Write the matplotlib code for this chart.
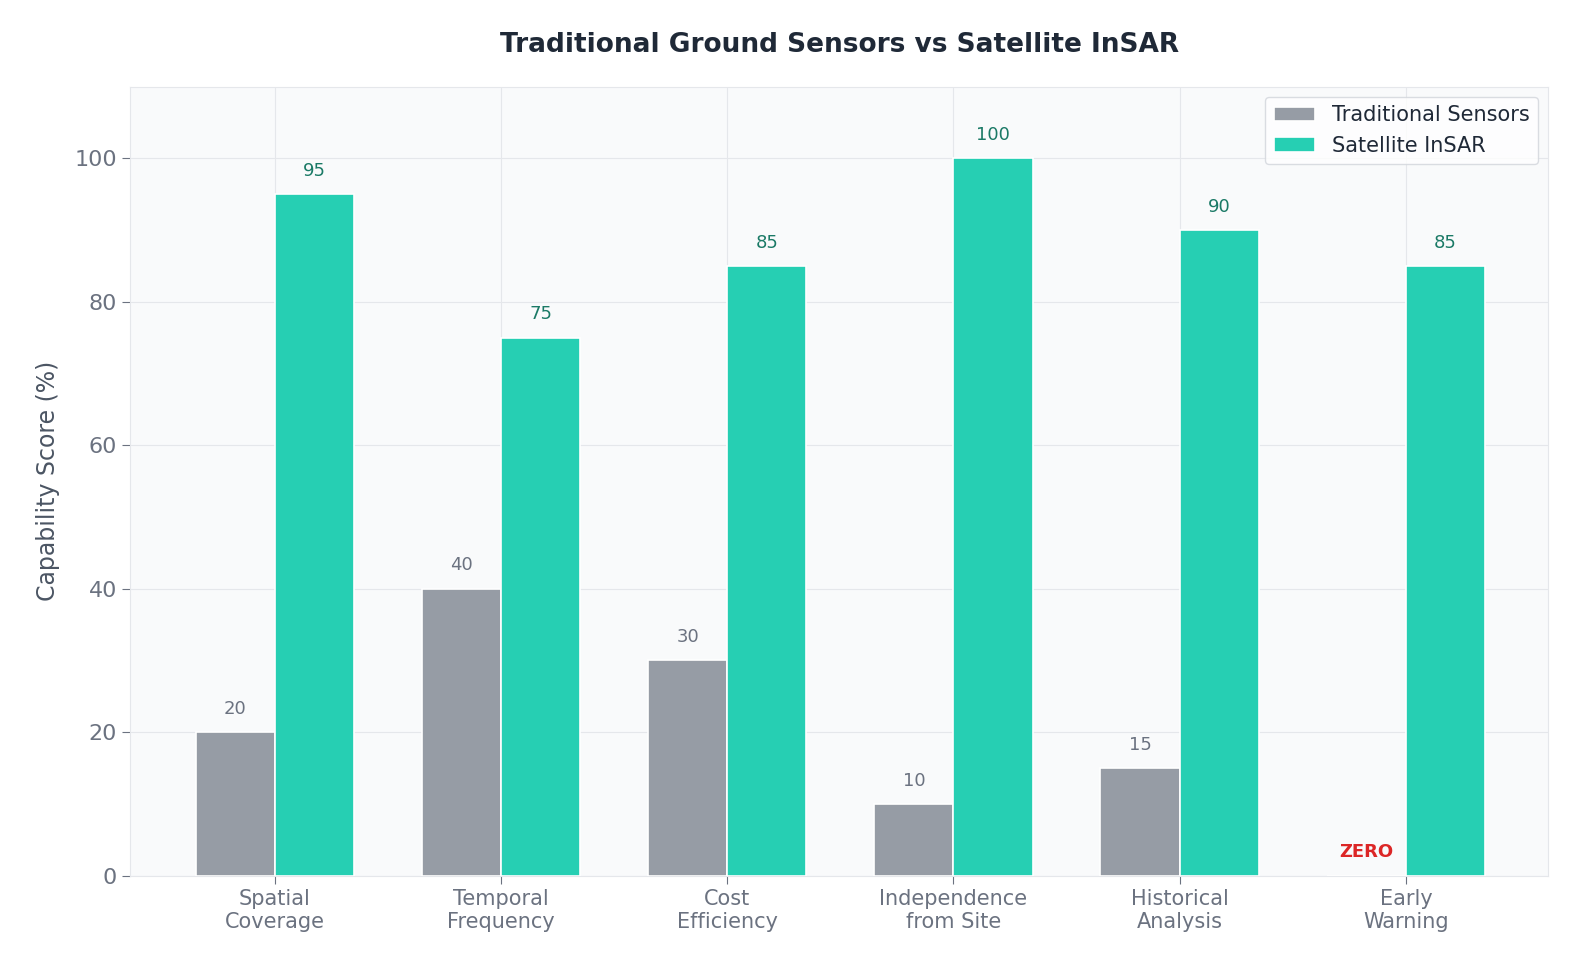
import numpy as np
import matplotlib.pyplot as plt

categories = ["Spatial\nCoverage", "Temporal\nFrequency", "Cost\nEfficiency",
              "Independence\nfrom Site", "Historical\nAnalysis", "Early\nWarning"]
traditional = [20, 40, 30, 10, 15, 0]
insar = [95, 75, 85, 100, 90, 85]

GRAY = "#969CA5"
TEAL = "#26CFB3"

fig, ax = plt.subplots(figsize=(15.8, 9.73), dpi=100)
fig.subplots_adjust(left=0.0823, right=0.98, top=0.911, bottom=0.1)
ax.set_facecolor("#F9FAFB")

x = np.arange(len(categories))
w = 0.35
b1 = ax.bar(x - w / 2, traditional, w, color=GRAY, edgecolor="white", linewidth=1.2,
            label="Traditional Sensors", zorder=3)
b2 = ax.bar(x + w / 2, insar, w, color=TEAL, edgecolor="white", linewidth=1.2,
            label="Satellite InSAR", zorder=3)

for xi, v in zip(x, traditional):
    if v == 0:
        ax.text(xi - w / 2, 2.0, "ZERO", ha="center", va="bottom", fontsize=13,
                fontweight="bold", color="#DC2626", zorder=4)
    else:
        ax.text(xi - w / 2, v + 2, str(v), ha="center", va="bottom", fontsize=13,
                color="#6B7280", zorder=4)
for xi, v in zip(x, insar):
    ax.text(xi + w / 2, v + 2, str(v), ha="center", va="bottom", fontsize=13,
            color="#1B7A66", zorder=4)

ax.set_xlim(-0.64, 5.63)
ax.set_ylim(0, 110)
ax.set_yticks([0, 20, 40, 60, 80, 100])
ax.set_xticks(x)
ax.set_xticklabels(categories, fontsize=15, color="#6B7280")
ax.tick_params(axis="y", labelsize=16, labelcolor="#6B7280", color="#6B7280", length=6)
ax.tick_params(axis="x", color="#6B7280", length=6)
ax.set_ylabel("Capability Score (%)", fontsize=17, color="#4B5563", labelpad=10)
ax.set_title("Traditional Ground Sensors vs Satellite InSAR", fontsize=19,
             fontweight="bold", color="#1F2937", pad=25)

ax.grid(True, color="#E5E7EB", linewidth=0.8, zorder=0)
ax.set_axisbelow(True)
for s in ax.spines.values():
    s.set_color("#E5E7EB")

leg = ax.legend(loc="upper right", fontsize=15, frameon=True, fancybox=True)
leg.get_frame().set_edgecolor("#D1D5DB")
for t in leg.get_texts():
    t.set_color("#1F2937")

fig.savefig("out.png", dpi=100)
